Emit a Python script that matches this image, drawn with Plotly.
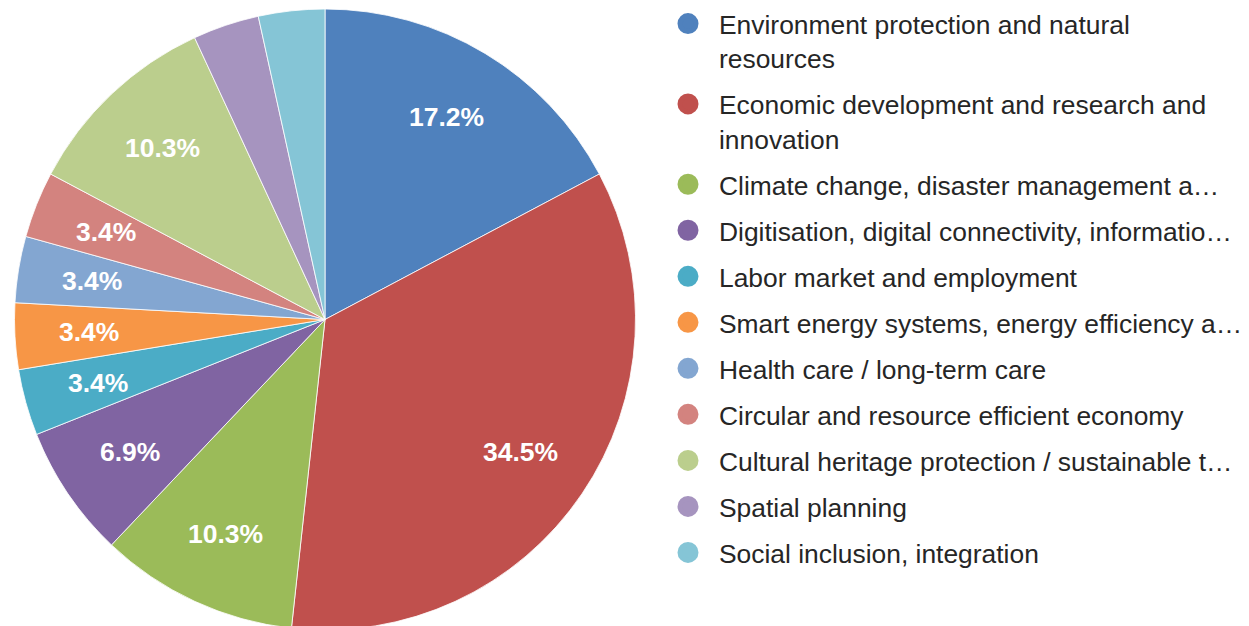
import math
import plotly.graph_objects as go

categories = [
    "Environment protection and natural<br>resources",
    "Economic development and research and<br>innovation",
    "Climate change, disaster management a…",
    "Digitisation, digital connectivity, informatio…",
    "Labor market and employment",
    "Smart energy systems, energy efficiency a…",
    "Health care / long-term care",
    "Circular and resource efficient economy",
    "Cultural heritage protection / sustainable t…",
    "Spatial planning",
    "Social inclusion, integration",
]
counts = [5, 10, 3, 2, 1, 1, 1, 1, 3, 1, 1]
show_label = [True, True, True, True, True, True, True, True, True, False, False]
colors = [
    "#4F81BD", "#C0504D", "#9BBB59", "#8064A2", "#4BACC6", "#F79646",
    "#83A6D1", "#D3837F", "#BBCE8D", "#A694BF", "#85C5D6",
]

W, H = 1249, 626
M_T, M_B = 1, 4
PIE_W = 634
dom_x = [0, PIE_W / W]
plot_h = H - M_T - M_B
radius = min(PIE_W, plot_h) / 2
label_r = 0.76 * radius

fig = go.Figure()
fig.add_trace(go.Pie(
    labels=categories,
    values=counts,
    sort=False,
    direction="clockwise",
    rotation=0,
    marker=dict(colors=colors, line=dict(color="white", width=0.8)),
    textinfo="none",
    showlegend=False,
    domain=dict(x=dom_x, y=[0, 1]),
    hoverinfo="label+percent",
))

# slice percentage labels along each slice bisector
total = sum(counts)
cum = 0
for v, show in zip(counts, show_label):
    mid = (cum + v / 2) / total
    cum += v
    if not show:
        continue
    theta = 2 * math.pi * mid
    fig.add_annotation(
        x=(dom_x[0] + dom_x[1]) / 2, y=0.5, xref="paper", yref="paper",
        xshift=label_r * math.sin(theta), yshift=label_r * math.cos(theta),
        text=f"{100 * v / total:.1f}%", showarrow=False,
        xanchor="center", yanchor="middle",
        font=dict(family="Liberation Sans", size=26.5, color="white", weight="bold"),
    )

for name, col in zip(categories, colors):
    fig.add_trace(go.Scatter(
        x=[None], y=[None], mode="markers", name=name, legendgroup=name,
        marker=dict(symbol="circle", size=16, color=col, line=dict(color=col, width=10)),
    ))

fig.update_layout(
    width=W, height=H,
    margin=dict(l=0, r=0, t=M_T, b=M_B, autoexpand=False),
    paper_bgcolor="white", plot_bgcolor="white",
    xaxis=dict(visible=False), yaxis=dict(visible=False),
    legend=dict(
        x=649 / W, y=1.0146, xanchor="left", yanchor="top",
        font=dict(family="Liberation Sans", size=26.4, color="#262626"),
        tracegroupgap=8.7, valign="top", itemwidth=52, maxheight=700,
        bgcolor="rgba(0,0,0,0)",
    ),
    showlegend=True,
)

fig.write_html("out.html")
